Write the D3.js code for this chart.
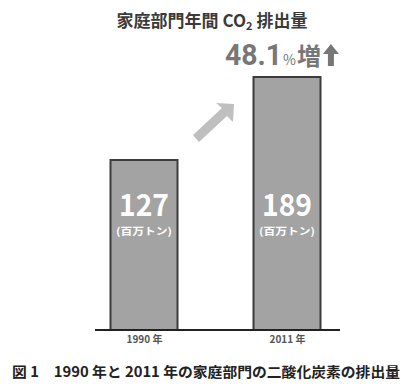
<!DOCTYPE html>
<html>
<head>
<meta charset="utf-8">
<script src="https://cdn.jsdelivr.net/npm/d3@7"></script>
<style>
  body { margin: 0; background: #fff; }
  text { font-family: "Noto Sans CJK JP", "Noto Sans", sans-serif; }
</style>
</head>
<body>
<div id="chart"></div>
<script>
const years = ["1990 年", "2011 年"];
const values = [127, 189];
const unitLabel = "(百万トン)";
const chartTitle = "家庭部門年間 CO";
const increase = "48.1";
const caption = "図 1　1990 年と 2011 年の家庭部門の二酸化炭素の排出量";

const width = 411, height = 390;
const svg = d3.select("#chart").append("svg")
    .attr("width", width).attr("height", height);

// bar centers
const xc = d3.scalePoint().domain(years).range([144, 287]);
const barW = 67;

const y = d3.scaleLinear()
    .domain([0, 189])
    .range([330, 77]);

// title
const t = svg.append("text")
    .attr("x", 212).attr("y", 27)
    .attr("text-anchor", "middle")
    .attr("fill", "#3a3a3a")
    .attr("font-size", 17)
    .attr("font-weight", "bold");
t.append("tspan").text(chartTitle);
t.append("tspan").attr("font-size", 11).attr("dy", 3).text("2");
t.append("tspan").attr("dy", -3).text(" 排出量");

// increase label
const inc = svg.append("text")
    .attr("x", 225).attr("y", 65)
    .attr("fill", "#777")
    .attr("font-weight", "bold");
inc.append("tspan").attr("font-size", 30).attr("font-family", "Roboto, sans-serif")
    .attr("textLength", 57).attr("lengthAdjust", "spacingAndGlyphs").text(increase);
inc.append("tspan").attr("font-size", 14).attr("font-weight", "normal").attr("dx", 1).text("%");
inc.append("tspan").attr("font-size", 24).attr("dx", 1).text("増");

// small up arrow after 増
const incEnd = 225 + inc.node().getComputedTextLength() + 4;
svg.append("path")
    .attr("transform", `translate(${incEnd},0)`)
    .attr("d", "M8,44 L0,54 L5,54 L5,66 L11,66 L11,54 L16,54 Z")
    .attr("fill", "#777");

// bars
svg.selectAll("rect.bar")
  .data(values)
  .join("rect")
    .attr("class", "bar")
    .attr("x", (d, i) => xc(years[i]) - barW / 2)
    .attr("y", d => y(d))
    .attr("width", barW)
    .attr("height", d => y(0) - y(d))
    .attr("fill", "#a3a3a3")
    .attr("stroke", "#3c3c3c")
    .attr("stroke-width", 2);

// value labels
svg.selectAll("text.val")
  .data(values)
  .join("text")
    .attr("class", "val")
    .attr("x", (d, i) => xc(years[i]))
    .attr("y", 216)
    .attr("text-anchor", "middle")
    .attr("fill", "#fff")
    .attr("font-size", 31)
    .attr("font-weight", "bold")
    .attr("font-family", "Roboto, sans-serif")
    .attr("textLength", 50)
    .attr("lengthAdjust", "spacingAndGlyphs")
    .text(d => d);

svg.selectAll("text.unit")
  .data(values)
  .join("text")
    .attr("class", "unit")
    .attr("x", (d, i) => xc(years[i]))
    .attr("y", 235)
    .attr("text-anchor", "middle")
    .attr("fill", "#fff")
    .attr("font-size", 10)
    .attr("font-weight", "bold")
    .attr("textLength", 56)
    .attr("lengthAdjust", "spacingAndGlyphs")
    .text(unitLabel);

// diagonal arrow
svg.append("path")
    .attr("d", "M193,135 L222,108 L216,103 L234,104 L233,122 L227,116 L199,142 Z")
    .attr("fill", "#bfbfbf");

// baseline axis
const axis = svg.append("g")
    .attr("transform", "translate(0,330)")
    .call(d3.axisBottom(xc).tickSize(0).tickPadding(6));
axis.select(".domain").remove();
axis.append("line")
    .attr("x1", 95).attr("x2", 340)
    .attr("stroke", "#222").attr("stroke-width", 2);
axis.selectAll(".tick text")
    .attr("font-size", 10)
    .attr("fill", "#555")
    .attr("font-weight", "bold")
    .attr("font-family", "Liberation Sans, sans-serif");

// caption
svg.append("text")
    .attr("x", 12).attr("y", 377)
    .attr("fill", "#222")
    .attr("font-size", 14)
    .attr("font-weight", "bold")
    .attr("textLength", 388)
    .attr("lengthAdjust", "spacingAndGlyphs")
    .text(caption);
</script>
</body>
</html>
